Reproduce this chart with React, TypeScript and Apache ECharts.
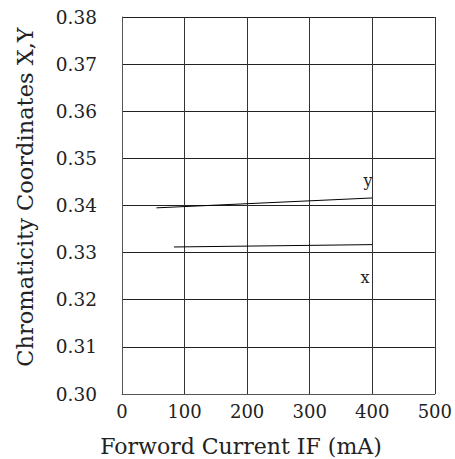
import React, { useEffect, useRef } from "react";
import * as echarts from "echarts";

const currentY = [55, 400];
const valuesY = [0.3395, 0.3416];
const currentX = [83, 400];
const valuesX = [0.3312, 0.3317];
const xTicks = { min: 0, max: 500, interval: 100 };
const yTicks = { min: 0.3, max: 0.38, interval: 0.01 };
const xName = "Forword Current IF (mA)";
const yName = "Chromaticity Coordinates X,Y";

const SERIF = "'DejaVu Serif', 'Liberation Serif', serif";

export default function App() {
  const ref = useRef<HTMLDivElement>(null);
  useEffect(() => {
    if (!ref.current) return;
    const chart = echarts.init(ref.current, undefined, { renderer: "svg" });
    chart.setOption({
      animation: false,
      backgroundColor: "#fff",
      grid: { left: 122, top: 17, right: 19, bottom: 65, show: false },
      xAxis: {
        type: "value",
        min: xTicks.min,
        max: xTicks.max,
        interval: xTicks.interval,
        axisLine: { show: true, lineStyle: { color: "#555", width: 1 } },
        axisTick: { show: false },
        axisLabel: { color: "#222", fontFamily: SERIF, fontSize: 18, margin: 8 },
        splitLine: { show: true, lineStyle: { color: "#333", width: 1 } },
      },
      yAxis: {
        type: "value",
        min: yTicks.min,
        max: yTicks.max,
        interval: yTicks.interval,
        axisLine: { show: true, lineStyle: { color: "#555", width: 1 } },
        axisTick: { show: false },
        axisLabel: {
          color: "#222",
          fontFamily: SERIF,
          fontSize: 18.5,
          margin: 25,
          formatter: (v: number) => v.toFixed(2),
        },
        splitLine: { show: true, lineStyle: { color: "#222", width: 1 } },
      },
      series: [
        {
          type: "line",
          name: "y",
          data: currentY.map((c, i) => [c, valuesY[i]]),
          showSymbol: false,
          lineStyle: { color: "#000", width: 1 },
        },
        {
          type: "line",
          name: "x",
          data: currentX.map((c, i) => [c, valuesX[i]]),
          showSymbol: false,
          lineStyle: { color: "#000", width: 1 },
        },
      ],
      graphic: [
        {
          type: "text",
          x: 368,
          y: 180,
          style: {
            text: "y",
            fontFamily: SERIF,
            fontSize: 16,
            fill: "#222",
            textAlign: "center",
            textVerticalAlign: "middle",
          },
        },
        {
          type: "text",
          x: 365,
          y: 277,
          style: {
            text: "x",
            fontFamily: SERIF,
            fontSize: 16,
            fill: "#222",
            textAlign: "center",
            textVerticalAlign: "middle",
          },
        },
        {
          type: "text",
          x: 241,
          y: 446,
          style: {
            text: xName,
            fontFamily: SERIF,
            fontSize: 22,
            fill: "#222",
            textAlign: "center",
            textVerticalAlign: "middle",
          },
        },
        {
          type: "text",
          x: 25,
          y: 197,
          rotation: Math.PI / 2,
          style: {
            text: yName,
            fontFamily: SERIF,
            fontSize: 22.5,
            fill: "#222",
            textAlign: "center",
            textVerticalAlign: "middle",
          },
        },
      ],
    });
    return () => chart.dispose();
  }, []);
  return <div ref={ref} style={{ width: 455, height: 459, position: "absolute", left: 0, top: 0 }} />;
}
